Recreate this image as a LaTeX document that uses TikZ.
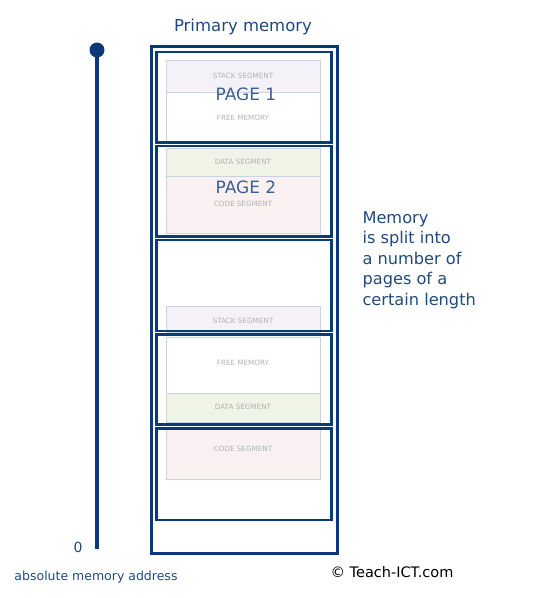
\documentclass[tikz,border=0pt]{standalone}
\usepackage{fontspec}
\setmainfont{DejaVu Sans}
\definecolor{navy}{HTML}{0B3A78}
\definecolor{txtblue}{HTML}{1F4A80}
\definecolor{pageblue}{HTML}{3C5F92}
\definecolor{segline}{HTML}{C9D2E2}
\definecolor{seglabel}{HTML}{B2B2B2}
\definecolor{stackfill}{HTML}{F4F2F8}
\definecolor{datafill}{HTML}{EFF4E7}
\definecolor{codefill}{HTML}{F9F1F1}
\begin{document}
\begin{tikzpicture}[x=1pt,y=-1pt,
  seg/.style={draw=segline,line width=0.9pt},
  seglbl/.style={text=seglabel,font=\fontsize{7.2}{8}\selectfont},
  pagebox/.style={draw=navy,line width=2.6pt},
  outerbox/.style={draw=navy,line width=3pt},
  pagelbl/.style={text=pageblue,font=\fontsize{17}{19}\selectfont},
  bluetxt/.style={text=txtblue}]
\useasboundingbox (0,0) rectangle (556,598);
% segments
\fill[stackfill] (166,60) rectangle (320,92);
\draw[seg] (166,60) rectangle (320,92);
\draw[seg] (166,92) rectangle (320,143);
\fill[datafill] (166,148) rectangle (320,176);
\draw[seg] (166,148) rectangle (320,176);
\fill[codefill] (166,176) rectangle (320,233);
\draw[seg] (166,176) rectangle (320,233);
\fill[stackfill] (166,306) rectangle (320,332);
\draw[seg] (166,306) rectangle (320,332);
\draw[seg] (166,337) rectangle (320,393);
\fill[datafill] (166,393) rectangle (320,422);
\draw[seg] (166,393) rectangle (320,422);
\fill[codefill] (166,427) rectangle (320,479);
\draw[seg] (166,427) rectangle (320,479);
\node[seglbl] (s1) at (243,76) {STACK SEGMENT};
\node[seglbl] (f1) at (243,118) {FREE MEMORY};
\node[seglbl] (d1) at (243,162) {DATA SEGMENT};
\node[seglbl] (c1) at (243,204) {CODE SEGMENT};
\node[seglbl] (s2) at (243,321) {STACK SEGMENT};
\node[seglbl] (f2) at (243,363) {FREE MEMORY};
\node[seglbl] (d2) at (243,407) {DATA SEGMENT};
\node[seglbl] (c2) at (243,449) {CODE SEGMENT};
% pages
\draw[pagebox] (156.5,52) rectangle (331.5,142.5);
\draw[pagebox] (156.5,146) rectangle (331.5,236.5);
\draw[pagebox] (156.5,240) rectangle (331.5,331);
\draw[pagebox] (156.5,334.5) rectangle (331.5,424.5);
\draw[pagebox] (156.5,428.5) rectangle (331.5,520);
\draw[outerbox] (151.5,46.5) rectangle (337.5,553);
\node[pagelbl] (p1) at (246,94) {PAGE 1};
\node[pagelbl] (p2) at (246,187) {PAGE 2};
% axis
\coordinate (top) at (97,50);
\coordinate (bot) at (97,549);
\draw[navy,line width=3.5pt] (top) -- (bot);
\fill[navy] (top) circle (7.5);
\node[bluetxt,font=\fontsize{14}{16}\selectfont] (zero) at (78,547) {0};
\node[bluetxt,font=\fontsize{12.5}{14}\selectfont] (abs) at (96,577) {absolute memory address};
\node[bluetxt,font=\fontsize{16.5}{18}\selectfont] (title) at (243,27) {Primary memory};
\node[bluetxt,font=\fontsize{16.2}{20.5}\selectfont,align=left,anchor=north west] (desc) at (359,208) {Memory\\is split into\\a number of\\pages of a\\certain length};
\node[font=\fontsize{14.5}{16}\selectfont] (copy) at (392,572) {© Teach-ICT.com};
\end{tikzpicture}
\end{document}
